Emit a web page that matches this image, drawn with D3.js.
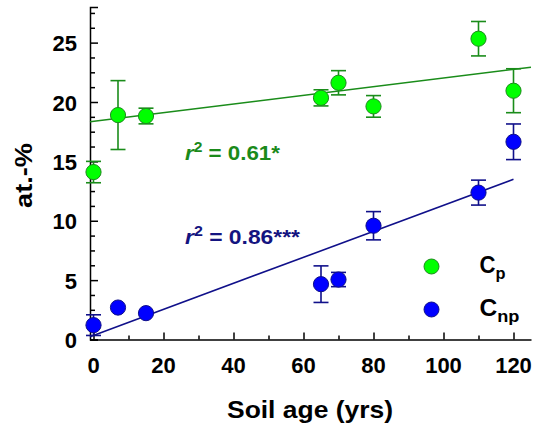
<!DOCTYPE html>
<html><head><meta charset="utf-8">
<script src="https://cdn.jsdelivr.net/npm/d3@7"></script>
<style>body{margin:0;background:#fff}svg{display:block}text{font-family:Arial,"Liberation Sans",sans-serif;font-weight:bold}</style>
</head><body><svg id="c" width="534" height="430"></svg>
<script>
const ages = [0, 7, 15, 65, 70, 80, 110, 120];
const cp = [14.1, 18.9, 18.82, 20.35, 21.62, 19.63, 25.33, 20.95];
const cpErr = [0.9, 2.9, 0.66, 0.68, 1.02, 0.91, 1.45, 1.85];
const cnp = [1.21, 2.69, 2.22, 4.66, 5.05, 9.58, 12.37, 16.65];
const cnpErr = [0.87, 0, 0, 1.54, 0.6, 1.19, 1.05, 1.5];
const cpFit = {a: 18.37, b: 0.0365, x0: -1, x1: 125};
const cnpFit = {a: 0.35, b: 0.1095, x0: -1, x1: 120};
const xTicks = [0, 20, 40, 60, 80, 100, 120];
const yTicks = [0, 5, 10, 15, 20, 25];
const labels = {x: "Soil age (yrs)", y: "at.-%", r2p: "= 0.61*", r2np: "= 0.86***"};

const svg = d3.select("#c");
const x = d3.scaleLinear().domain([-1, 125]).range([90, 531]);
const y = d3.scaleLinear().domain([0, 28]).range([339.5, 7]);

const G = {fill: "#00ff00", stroke: "#1f8a1f", line: "#1a8c1a"};
const B = {fill: "#0000ff", stroke: "#10108a", line: "#10108a"};

// axes
const yMinor = d3.range(0, 28.01, 1.25).filter(v => v % 5 !== 0);
const xMinor = d3.range(10, 121, 20);
const ax = svg.append("g").attr("transform", `translate(90,0)`)
  .call(d3.axisRight(y).tickValues(yTicks).tickSize(8).tickFormat(""));
ax.selectAll("path,line").attr("stroke", "#000").attr("stroke-width", 1.5);
const axm = svg.append("g").attr("transform", `translate(90,0)`)
  .call(d3.axisRight(y).tickValues(yMinor).tickSize(5).tickFormat(""));
axm.select("path").remove();
axm.selectAll("line").attr("stroke", "#000").attr("stroke-width", 1.5);
svg.append("g").selectAll("text").data(yTicks).join("text")
  .attr("x", 77).attr("y", d => y(d) + 8.5).attr("text-anchor", "end")
  .attr("font-size", 22).text(d => d);

const bx = svg.append("g").attr("transform", `translate(0,${y(0)})`)
  .call(d3.axisTop(x).tickValues(xTicks).tickSize(7).tickSizeOuter(0).tickFormat(""));
bx.selectAll("path,line").attr("stroke", "#000").attr("stroke-width", 1.5);
const bxm = svg.append("g").attr("transform", `translate(0,${y(0)})`)
  .call(d3.axisTop(x).tickValues(xMinor).tickSize(4).tickFormat(""));
bxm.select("path").remove();
bxm.selectAll("line").attr("stroke", "#000").attr("stroke-width", 1.5);
svg.append("g").selectAll("text").data(xTicks).join("text")
  .attr("x", d => x(d)).attr("y", 373).attr("text-anchor", "middle")
  .attr("font-size", 22).text(d => d);

svg.append("text").attr("x", 227).attr("y", 418)
  .attr("font-size", 24.5).attr("textLength", 166).attr("lengthAdjust", "spacingAndGlyphs").text(labels.x);
svg.append("text").attr("transform", "translate(31.5,208) rotate(-90)")
  .attr("font-size", 23.5).attr("textLength", 65).attr("lengthAdjust", "spacingAndGlyphs").text(labels.y);

// fits
function fitLine(f, c) {
  svg.append("line").attr("x1", x(f.x0)).attr("y1", y(f.a + f.b * f.x0))
    .attr("x2", x(f.x1)).attr("y2", y(f.a + f.b * f.x1))
    .attr("stroke", c.line).attr("stroke-width", 1.6);
}
fitLine(cpFit, G);
fitLine(cnpFit, B);

function series(vals, errs, c) {
  const g = svg.append("g");
  const d = ages.map((a, i) => ({a, v: vals[i], e: errs[i]}));
  const eb = g.selectAll("g.eb").data(d.filter(o => o.e > 0)).join("g").attr("stroke", c.line).attr("stroke-width", 1.6);
  eb.append("line").attr("x1", o => x(o.a)).attr("x2", o => x(o.a)).attr("y1", o => y(o.v - o.e)).attr("y2", o => y(o.v + o.e));
  eb.append("line").attr("x1", o => x(o.a) - 7.5).attr("x2", o => x(o.a) + 7.5).attr("y1", o => y(o.v - o.e)).attr("y2", o => y(o.v - o.e));
  eb.append("line").attr("x1", o => x(o.a) - 7.5).attr("x2", o => x(o.a) + 7.5).attr("y1", o => y(o.v + o.e)).attr("y2", o => y(o.v + o.e));
  g.selectAll("circle").data(d).join("circle").attr("cx", o => x(o.a)).attr("cy", o => y(o.v))
    .attr("r", 7.6).attr("fill", c.fill).attr("stroke", c.stroke).attr("stroke-width", 1);
}
series(cp, cpErr, G);
series(cnp, cnpErr, B);

// r2 labels
function r2(xp, yp, txt, col, len) {
  const t = svg.append("text").attr("x", xp).attr("y", yp).attr("font-size", 20).attr("fill", col)
    .attr("textLength", len).attr("lengthAdjust", "spacingAndGlyphs");
  t.append("tspan").attr("font-style", "italic").text("r");
  t.append("tspan").attr("font-size", 14).attr("dy", -8).text("2");
  t.append("tspan").attr("dy", 8).text(" " + txt);
}
r2(185, 159.5, labels.r2p, "#1a8a1a", 95);
r2(185, 243.5, labels.r2np, "#141480", 115);

// legend
const leg = [{c: G, s: "p", yy: 266.5, len: 26}, {c: B, s: "np", yy: 309.5, len: 40}];
leg.forEach(l => {
  svg.append("circle").attr("cx", 431.5).attr("cy", l.yy).attr("r", 7.5)
    .attr("fill", l.c.fill).attr("stroke", l.c.stroke).attr("stroke-width", 1);
  const t = svg.append("text").attr("x", 479.5).attr("y", l.yy + 6.5).attr("font-size", 23).attr("fill", "#000")
    .attr("textLength", l.len).attr("lengthAdjust", "spacingAndGlyphs");
  t.append("tspan").text("C");
  t.append("tspan").attr("font-size", 17).attr("dy", 6).text(l.s);
});
</script></body></html>
